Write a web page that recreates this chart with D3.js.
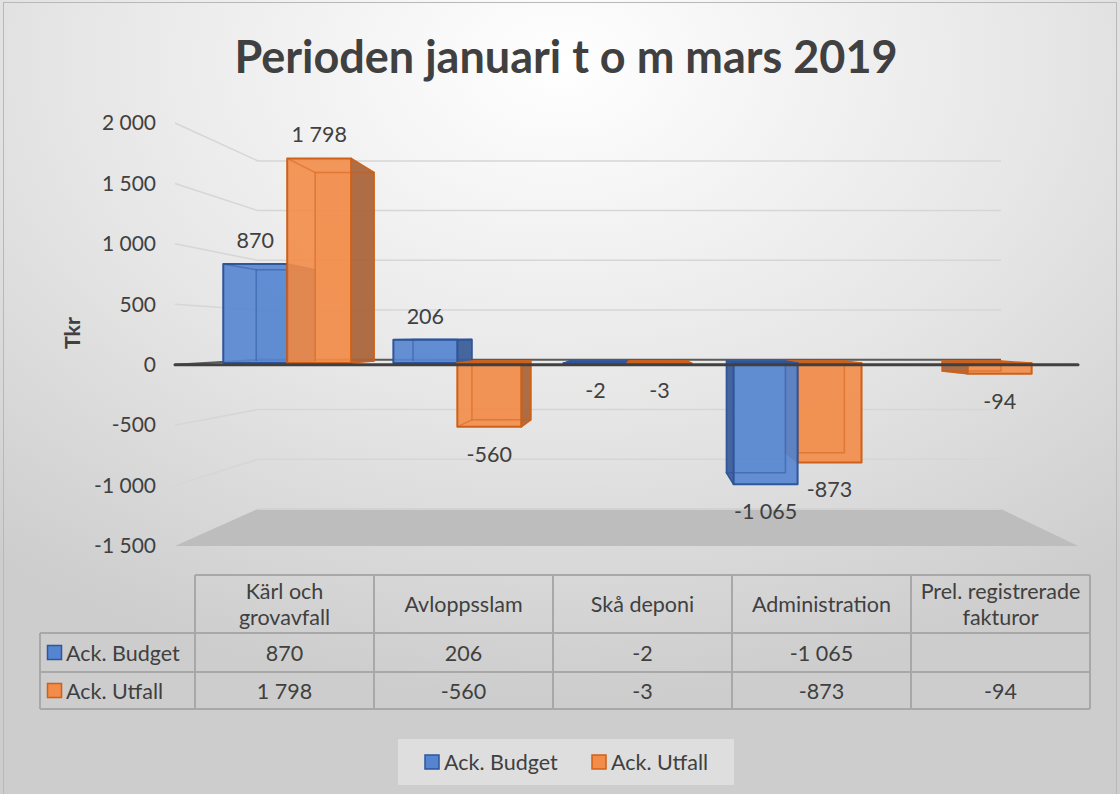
<!DOCTYPE html>
<html>
<head>
<meta charset="utf-8">
<script src="https://cdn.jsdelivr.net/npm/d3@7"></script>
<style>
  body { margin: 0; background: #fff; }
  text { font-family: Lato, "Noto Sans", sans-serif; fill: #404040; }
</style>
</head>
<body>
<script>
// data
var categories = ["Kärl och grovavfall", "Avloppsslam", "Skå deponi", "Administration", "Prel. registrerade fakturor"];
var headerLines = [["Kärl och", "grovavfall"], ["Avloppsslam"], ["Skå deponi"], ["Administration"], ["Prel. registrerade", "fakturor"]];
var seriesNames = ["Ack. Budget", "Ack. Utfall"];
var budget = [870, 206, -2, -1065, null];
var utfall = [1798, -560, -3, -873, -94];
var yTicks = [-1500, -1000, -500, 0, 500, 1000, 1500, 2000];

var W = 1120, H = 794;
var fs = "21.5px";
var colors = {
  "Ack. Budget": {fill: "#5585d0", side: "#3b5c98", stroke: "#2f559a"},
  "Ack. Utfall": {fill: "#f28c48", side: "#a8643a", stroke: "#cf6019"}
};

var loc = d3.formatLocale({decimal: ",", thousands: " ", grouping: [3], currency: ["", ""], minus: "-"});
var fmt = loc.format(",d");

var svg = d3.select("body").append("svg")
  .attr("width", W).attr("height", H);

// background
var defs = svg.append("defs");
var grad = defs.append("radialGradient").attr("id", "bg")
  .attr("cx", "50%").attr("cy", "8%").attr("r", "80%");
grad.append("stop").attr("offset", "0%").attr("stop-color", "#ffffff");
grad.append("stop").attr("offset", "55%").attr("stop-color", "#e6e6e6");
grad.append("stop").attr("offset", "100%").attr("stop-color", "#cdcdcd");
svg.append("rect").attr("width", W).attr("height", H).attr("fill", "url(#bg)");
svg.append("rect").attr("x", 3.5).attr("y", 2.5).attr("width", 1113).attr("height", 800)
  .attr("fill", "none").attr("stroke", "#b8b8b8");

// title
svg.append("text").attr("x", 566).attr("y", 73).attr("text-anchor", "middle")
  .style("font-size", "45px").style("font-weight", "bold")
  .text("Perioden januari t o m mars 2019");

// 3D frame: front plane scales + perspective toward a vanishing point
var x = d3.scaleBand().domain(categories).range([175, 1078]);
var xs = d3.scaleBand().domain(seriesNames).range([0, x.bandwidth()]).paddingOuter(0.33);
var y = d3.scaleLinear().domain([-1500, 2000]).range([546, 123]);

var vp = {x: 643, y: 337};
var fWall = 0.823, fFront = 0.942, fBack = 0.868;
function proj(px, py, f) { return [vp.x + f * (px - vp.x), vp.y + f * (py - vp.y)]; }

var x0 = x.range()[0], x1 = x.range()[1];

// floor
var floor = [proj(x0, y(-1500), 1), proj(x1, y(-1500), 1), proj(x1, y(-1500), fWall), proj(x0, y(-1500), fWall)];
svg.append("polygon").attr("points", floor.join(" ")).attr("fill", "#bdbdbd");
svg.append("line")
  .attr("x1", floor[3][0]).attr("y1", floor[3][1]).attr("x2", floor[2][0]).attr("y2", floor[2][1])
  .attr("stroke", "#d2d2d2").attr("stroke-width", 2);

// gridlines on side wall and back wall
yTicks.filter(function(v) { return v > -1500; }).forEach(function(v) {
  var a = proj(x0, y(v), 1), b = proj(x0, y(v), fWall), c = proj(x1, y(v), fWall);
  svg.append("polyline").attr("points", [a, b, c].join(" "))
    .attr("fill", "none")
    .attr("stroke", v === 0 ? "#5a5a5a" : "#d6d6d6")
    .attr("stroke-width", v === 0 ? 2 : 1.5);
});

// y axis labels
var yAxis = svg.append("g").attr("transform", "translate(" + x0 + ",0)")
  .call(d3.axisLeft(y).tickValues(yTicks).tickFormat(fmt).tickSize(0).tickPadding(19));
yAxis.select(".domain").remove();
yAxis.selectAll("text").style("font-size", "21px").style("font-family", "Lato, sans-serif").attr("fill", "#595959");

svg.append("text").attr("transform", "translate(80,333) rotate(-90)")
  .attr("text-anchor", "middle").style("font-size", fs).style("font-weight", "bold")
  .text("Tkr");

// bars
var bars = [];
categories.forEach(function(c, i) {
  [budget, utfall].forEach(function(arr, k) {
    var v = arr[i];
    if (v === null) return;
    var s = seriesNames[k];
    var bx0 = x(c) + xs(s), bx1 = bx0 + xs.bandwidth();
    bars.push({cat: c, series: s, value: v, x0: bx0, x1: bx1,
      yt: y(Math.max(v, 0)), yb: y(Math.min(v, 0))});
  });
});
bars.sort(function(a, b) {
  return Math.abs((b.x0 + b.x1) / 2 - vp.x) - Math.abs((a.x0 + a.x1) / 2 - vp.x);
});

var gBars = svg.append("g");
bars.forEach(function(d) {
  var col = colors[d.series];
  var g = gBars.append("g");
  var F = function(px, py) { return proj(px, py, fFront); };
  var B = function(px, py) { return proj(px, py, fBack); };
  // back edges (seen through)
  g.append("polygon").attr("points", [B(d.x0, d.yt), B(d.x1, d.yt), B(d.x1, d.yb), B(d.x0, d.yb)].join(" "))
    .attr("fill", col.fill).attr("fill-opacity", 0.25)
    .attr("stroke", col.stroke).attr("stroke-opacity", 0.5).attr("stroke-width", 1.5);
  // side face
  var sx = null;
  if (d.x1 < vp.x) sx = d.x1; else if (d.x0 > vp.x) sx = d.x0;
  if (sx !== null) {
    g.append("polygon").attr("points", [F(sx, d.yt), B(sx, d.yt), B(sx, d.yb), F(sx, d.yb)].join(" "))
      .attr("fill", col.side).attr("fill-opacity", 0.92)
      .attr("stroke", col.stroke).attr("stroke-width", 1.5).attr("stroke-linejoin", "round");
  }
  // horizontal faces seen from above / below
  [d.yt, d.yb].forEach(function(hy, j) {
    var show = (j === 0 && hy > vp.y) || (j === 1 && hy < vp.y);
    if (!show) return;
    g.append("polygon").attr("points", [F(d.x0, hy), F(d.x1, hy), B(d.x1, hy), B(d.x0, hy)].join(" "))
      .attr("fill", col.stroke).attr("stroke", col.stroke).attr("stroke-width", 1.5);
  });
  // front face
  g.append("polygon").attr("points", [F(d.x0, d.yt), F(d.x1, d.yt), F(d.x1, d.yb), F(d.x0, d.yb)].join(" "))
    .attr("fill", col.fill).attr("fill-opacity", 0.9)
    .attr("stroke", col.stroke).attr("stroke-width", 2).attr("stroke-linejoin", "round");
  // inner back edges visible through the front face
  g.append("polyline").attr("points", [F(d.x0, d.value >= 0 ? d.yt : d.yb), B(d.x0, d.value >= 0 ? d.yt : d.yb),
      B(d.x1, d.value >= 0 ? d.yt : d.yb)].join(" "))
    .attr("fill", "none").attr("stroke", col.stroke).attr("stroke-opacity", 0.45).attr("stroke-width", 1.5);
  var vx = d.x1 < vp.x ? d.x0 : d.x1;
  g.append("line")
    .attr("x1", B(vx, d.yt)[0]).attr("y1", B(vx, d.yt)[1]).attr("x2", B(vx, d.yb)[0]).attr("y2", B(vx, d.yb)[1])
    .attr("stroke", col.stroke).attr("stroke-opacity", 0.45).attr("stroke-width", 1.5);
});

// front zero line
svg.append("line")
  .attr("x1", x0).attr("x2", x1).attr("y1", y(0)).attr("y2", y(0))
  .attr("stroke", "#404040").attr("stroke-width", 3).attr("stroke-linecap", "round");

// data labels
svg.append("g").selectAll("text").data(bars).join("text")
  .attr("x", function(d) { return proj((d.x0 + d.x1) / 2, 0, fFront)[0]; })
  .attr("y", function(d) {
    return d.value >= 0 ? proj(0, d.yt, fFront)[1] - 24 : proj(0, d.yb, fFront)[1] + 27;
  })
  .attr("text-anchor", "middle").attr("dominant-baseline", "central")
  .style("font-size", fs)
  .text(function(d) { return fmt(d.value); });

// data table
var tx = d3.scaleBand().domain(categories).range([195, 1090]);
var rowY = [575, 633, 672, 709];
var tLeft = 40;
var gt = svg.append("g").attr("stroke", "#a8a8a8").attr("stroke-width", 2);
gt.append("line").attr("x1", 195).attr("x2", 1090).attr("y1", rowY[0]).attr("y2", rowY[0]);
rowY.slice(1).forEach(function(ry) {
  gt.append("line").attr("x1", tLeft).attr("x2", 1090).attr("y1", ry).attr("y2", ry);
});
gt.append("line").attr("x1", tLeft).attr("x2", tLeft).attr("y1", rowY[1]).attr("y2", rowY[3]);
categories.forEach(function(c) {
  gt.append("line").attr("x1", tx(c)).attr("x2", tx(c)).attr("y1", rowY[0]).attr("y2", rowY[3]);
});
gt.append("line").attr("x1", 1090).attr("x2", 1090).attr("y1", rowY[0]).attr("y2", rowY[3]);

categories.forEach(function(c, i) {
  var lines = headerLines[i];
  var cy = (rowY[0] + rowY[1]) / 2;
  lines.forEach(function(l, j) {
    svg.append("text").attr("x", tx(c) + tx.bandwidth() / 2)
      .attr("y", cy + (j - (lines.length - 1) / 2) * 26)
      .attr("text-anchor", "middle").attr("dominant-baseline", "central")
      .style("font-size", fs).text(l);
  });
  [budget, utfall].forEach(function(arr, k) {
    if (arr[i] === null) return;
    svg.append("text").attr("x", tx(c) + tx.bandwidth() / 2)
      .attr("y", (rowY[k + 1] + rowY[k + 2]) / 2)
      .attr("text-anchor", "middle").attr("dominant-baseline", "central")
      .style("font-size", fs).text(fmt(arr[i]));
  });
});
seriesNames.forEach(function(s, k) {
  var cy = (rowY[k + 1] + rowY[k + 2]) / 2;
  svg.append("rect").attr("x", 47.5).attr("y", cy - 7).attr("width", 14).attr("height", 14)
    .attr("fill", colors[s].fill).attr("stroke", colors[s].stroke).attr("stroke-width", 1.5);
  svg.append("text").attr("x", 66).attr("y", cy).attr("dominant-baseline", "central")
    .style("font-size", fs).text(s);
});

// legend
var lg = svg.append("g");
lg.append("rect").attr("x", 398).attr("y", 739).attr("width", 336).attr("height", 46)
  .attr("fill", "#ffffff").attr("fill-opacity", 0.35);
var legendX = [425, 592];
seriesNames.forEach(function(s, k) {
  lg.append("rect").attr("x", legendX[k]).attr("y", 755).attr("width", 14).attr("height", 14)
    .attr("fill", colors[s].fill).attr("stroke", colors[s].stroke).attr("stroke-width", 1.5);
  lg.append("text").attr("x", legendX[k] + 19).attr("y", 762).attr("dominant-baseline", "central")
    .style("font-size", fs).text(s);
});
</script>
</body>
</html>
